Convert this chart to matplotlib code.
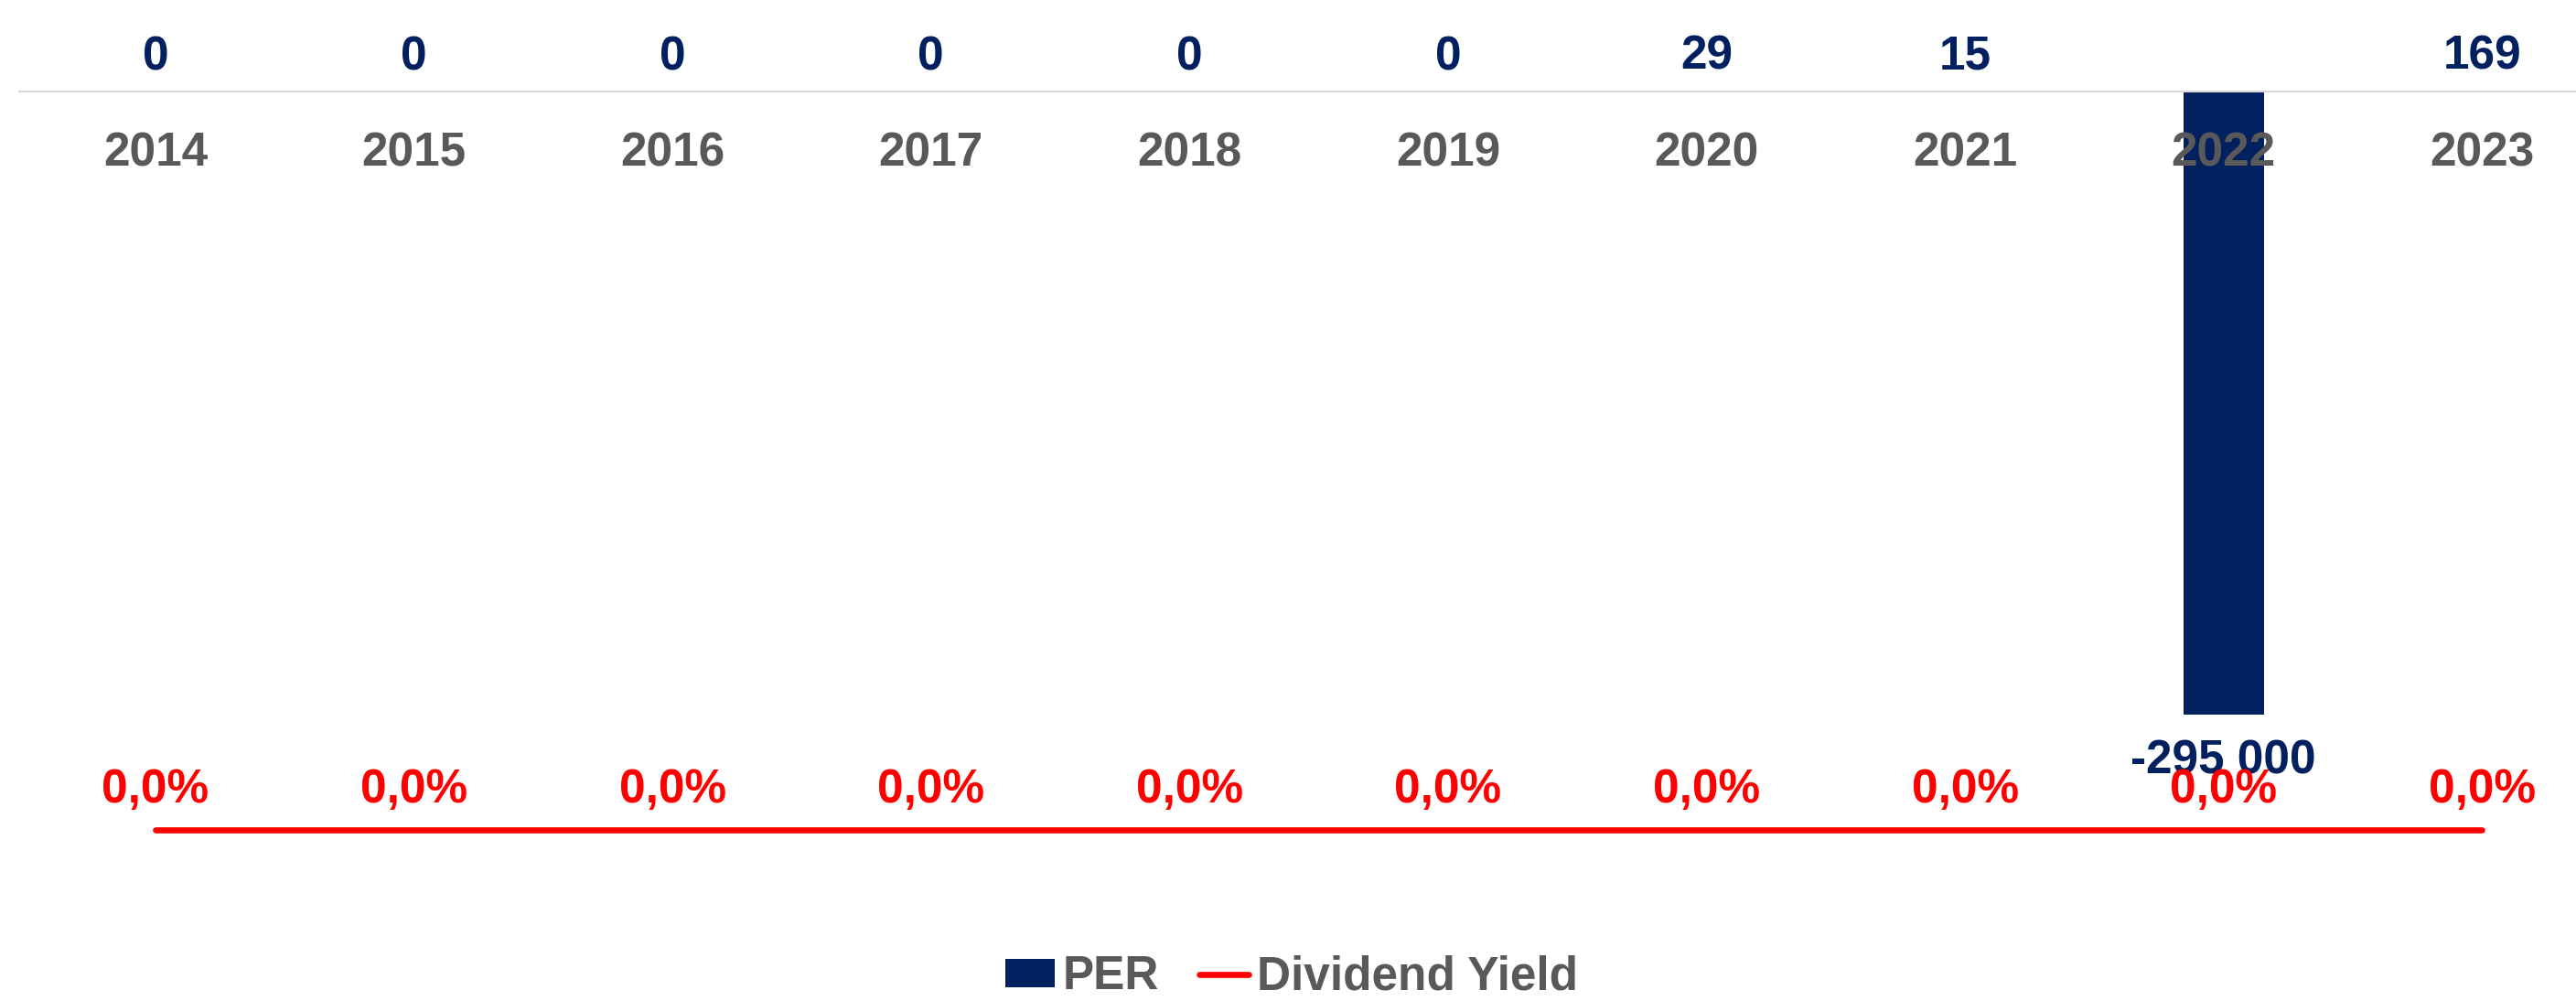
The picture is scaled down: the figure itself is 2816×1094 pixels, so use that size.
import matplotlib.pyplot as plt
import numpy as np

years = ['2014', '2015', '2016', '2017', '2018', '2019', '2020', '2021', '2022', '2023']
per = [0, 0, 0, 0, 0, 0, 29, 15, -295000, 169]
div_yield = [0.0, 0.0, 0.0, 0.0, 0.0, 0.0, 0.0, 0.0, 0.0, 0.0]

navy = '#002060'
grey = '#595959'
red = '#FF0000'

plt.rcParams['font.family'] = ['Liberation Sans', 'DejaVu Sans']
plt.rcParams['font.weight'] = 'bold'


def fmt_per(v):
    return f'{v:,.0f}'.replace(',', ' ')


fig = plt.figure(figsize=(28.16, 10.94), dpi=100)
ax = fig.add_axes([21 / 2816, 0, 1 - 21 / 2816, 1])
x = np.arange(len(years))

bars = ax.bar(x, per, width=0.31, color=navy, label='PER', zorder=1)
ax.set_xlim(-0.527, 9.363)
ax.set_ylim(-430600, 43320)

for xi, v in zip(x, per):
    off = 27 if v >= 0 else -36.5
    ax.annotate(fmt_per(v), (xi, v), xytext=(0, off), textcoords='offset points',
                ha='center', va='center', color=navy, fontsize=37, fontweight='bold')

for s in ['top', 'right', 'left']:
    ax.spines[s].set_visible(False)
ax.spines['bottom'].set_position(('data', 0))
ax.spines['bottom'].set_color('#D9D9D9')
ax.spines['bottom'].set_linewidth(1.5)
ax.set_yticks([])
ax.set_xticks(x)
ax.set_xticklabels(years, fontsize=37, fontweight='bold', color=grey)
ax.tick_params(axis='x', length=0, pad=31)

ax2 = ax.twinx()
ax2.plot(x, div_yield, color=red, lw=4.8, solid_capstyle='round', label='Dividend Yield')
ax2.set_ylim(-0.171, 0.829)
for xi, v in zip(x, div_yield):
    ax2.annotate(f'{v:.1f}%'.replace('.', ','), (xi, v), xytext=(0, 31),
                 textcoords='offset points', ha='center', va='center',
                 color=red, fontsize=37, fontweight='bold')
ax2.set_yticks([])
for s in ax2.spines.values():
    s.set_visible(False)

h1, l1 = ax.get_legend_handles_labels()
h2, l2 = ax2.get_legend_handles_labels()
leg = fig.legend(h1 + h2, l1 + l2, loc='center', bbox_to_anchor=(0.5014, 0.0238),
                 ncol=2, frameon=False, fontsize=37, handlelength=1.05,
                 handleheight=0.56, handletextpad=0.17, columnspacing=0.86,
                 borderpad=0, borderaxespad=0)
for t in leg.get_texts():
    t.set_color(grey)
    t.set_fontweight('bold')

fig.savefig('out.png', dpi=100)
